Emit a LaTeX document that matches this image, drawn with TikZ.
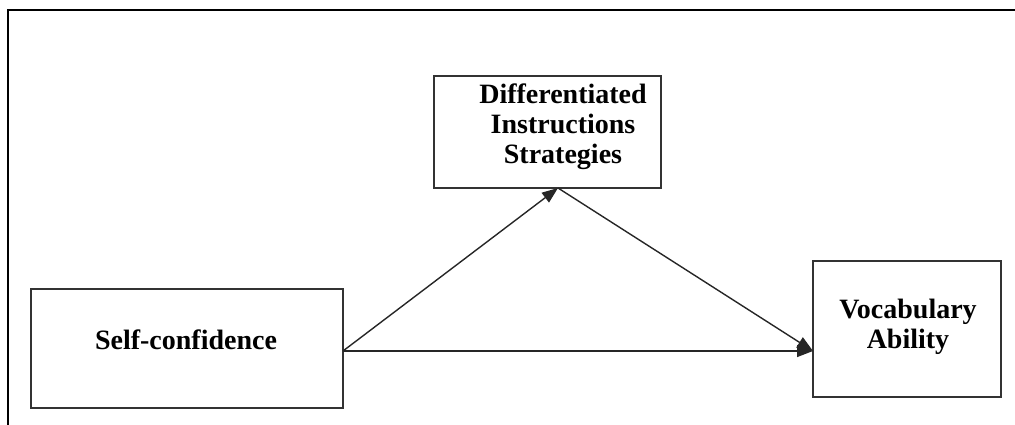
\documentclass[tikz,border=0pt]{standalone}
\usepackage{fontspec}
\setmainfont{Liberation Serif}
\usetikzlibrary{arrows.meta}
\begin{document}
\begin{tikzpicture}[x=1pt,y=-1pt,
  box/.style={draw=black!80, line width=1.5pt},
  lbl/.style={font=\fontsize{28}{30}\selectfont\bfseries, align=center, inner sep=0pt},
  conn/.style={draw=black!85, line width=1.4pt, -{Triangle[length=16pt,width=12pt]}},
  frame/.style={draw=black, line width=1.6pt}]
\useasboundingbox (0,0) rectangle (1015,425);
% frame (top and left only)
\coordinate (ftl) at (8,10);
\coordinate (ftr) at (1015,10);
\coordinate (fbl) at (8,425);
\draw[frame] (ftr) -- (ftl) -- (fbl);
% boxes
\draw[box] (31,289) rectangle (343,408);
\draw[box] (434,76) rectangle (661,188);
\draw[box] (813,261) rectangle (1001,397);
% labels
\node[lbl] (sc) at (186,340) {Self-confidence};
\node[lbl] (di) at (563,127) {Differentiated\\Instructions\\Strategies};
\node[lbl] (va) at (908,327) {Vocabulary\\Ability};
% connection points
\coordinate (scR) at (343,351);
\coordinate (diB) at (558,188);
\coordinate (vaL) at (813,351);
\draw[conn] (scR) -- (diB);
\draw[conn] (diB) -- (vaL);
\draw[conn] (scR) -- (vaL);
\end{tikzpicture}
\end{document}
